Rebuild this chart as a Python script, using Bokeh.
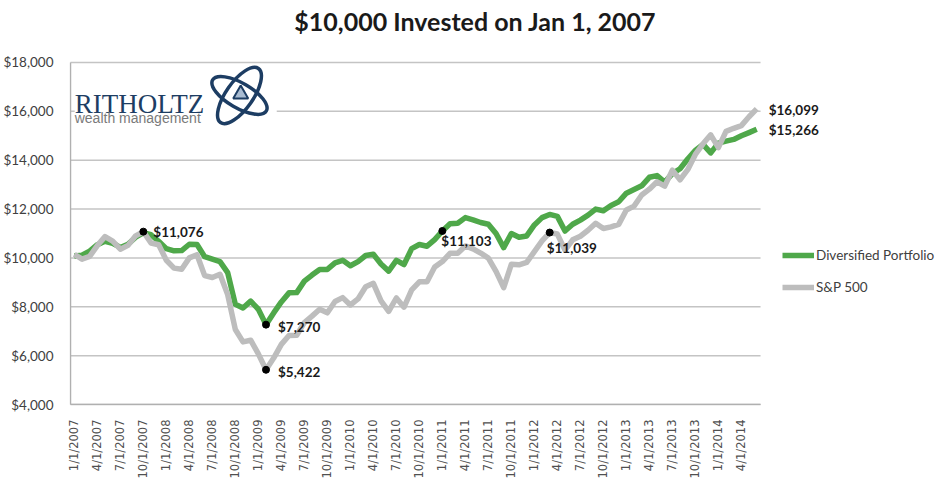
import math
from bokeh.plotting import figure
from bokeh.models import (Range1d, FixedTicker, NumeralTickFormatter, Legend,
                          LegendItem, Label)
from bokeh.embed import file_html
from bokeh.resources import INLINE
from bokeh.core.properties import value

# ---------------- data ----------------
months = list(range(90))  # month-end points, Jan 2007 .. Jun 2014

tick_labels = [
    "1/1/2007", "4/1/2007", "7/1/2007", "10/1/2007",
    "1/1/2008", "4/1/2008", "7/1/2008", "10/1/2008",
    "1/1/2009", "4/1/2009", "7/1/2009", "10/1/2009",
    "1/1/2010", "4/1/2010", "7/1/2010", "10/1/2010",
    "1/1/2011", "4/1/2011", "7/1/2011", "10/1/2011",
    "1/1/2012", "4/1/2012", "7/1/2012", "10/1/2012",
    "1/1/2013", "4/1/2013", "7/1/2013", "10/1/2013",
    "1/1/2014", "4/1/2014",
]
tick_positions = list(range(0, 90, 3))

diversified = [
    10080, 10110, 10280, 10540, 10680, 10600, 10430, 10560, 10850, 11030,
    10950, 10680, 10380, 10290, 10300, 10560, 10550, 10050, 9950, 9850,
    9400, 8100, 7950, 8230, 7900, 7270, 7750, 8200, 8570, 8580,
    9050, 9300, 9530, 9530, 9800, 9900, 9680, 9850, 10100, 10150,
    9750, 9460, 9900, 9730, 10380, 10550, 10480, 10750, 11103, 11400,
    11420, 11650, 11560, 11450, 11380, 11000, 10420, 11000, 10850, 10900,
    11350, 11650, 11780, 11700, 11100, 11380, 11550, 11750, 12000, 11930,
    12150, 12300, 12650, 12800, 12950, 13300, 13370, 13100, 13450, 13650,
    14050, 14400, 14650, 14300, 14700, 14780, 14850, 15000, 15130, 15266,
]

sp500 = [
    10151, 9951, 10062, 10507, 10873, 10691, 10359, 10513, 10904, 11076,
    10612, 10538, 9905, 9582, 9540, 10003, 10132, 9277, 9198, 9331,
    8499, 7071, 6564, 6632, 6072, 5422, 5900, 6463, 6824, 6837,
    7354, 7618, 7902, 7754, 8218, 8376, 8073, 8322, 8823, 8962,
    8245, 7813, 8360, 7983, 8694, 9023, 9023, 9625, 9851, 10189,
    10192, 10492, 10373, 10199, 9991, 9447, 8782, 9741, 9719, 9817,
    10256, 10697, 11039, 10977, 10317, 10741, 10889, 11133, 11419, 11206,
    11271, 11372, 11959, 12121, 12574, 12815, 13114, 12937, 13594, 13199,
    13612, 14237, 14670, 15039, 14517, 15179, 15305, 15417, 15778, 16099,
]

y_ticks = [4000, 6000, 8000, 10000, 12000, 14000, 16000, 18000]

series_names = ["Diversified Portfolio", "S&P 500"]
title_text = "$10,000 Invested on Jan 1, 2007"

GREEN = "#4fa84a"
GRAY = "#bdbdbd"
NAVY = "#1d3d63"

# ---------------- figure ----------------
# the frame covers the whole canvas above the date labels; the months' span is
# x in [-0.5, 89.5] and the values' span is y in [4000, 18000]
x_start, x_end = -0.5, len(months) - 0.5
p = figure(frame_width=867, frame_height=398, output_backend="svg", toolbar_location=None,
           x_range=Range1d(-0.63, 112.45), y_range=Range1d(3960, 20250),
           min_border_left=59, min_border_right=0, min_border_top=7,
           min_border_bottom=73, title=None)
p.outline_line_color = None
p.background_fill_color = "white"
p.border_fill_color = "white"

# axes
p.xaxis.ticker = FixedTicker(ticks=tick_positions)
p.xaxis.major_label_overrides = {t: lab for t, lab in zip(tick_positions, tick_labels)}
p.xaxis.major_label_orientation = math.pi / 2
p.xaxis.major_label_text_font = "DejaVu Sans"
p.xaxis.major_label_text_font_size = "11.5px"
p.xaxis.major_label_text_color = "#505050"
p.xaxis.major_tick_line_color = None
p.xaxis.minor_tick_line_color = None
p.xaxis.axis_line_color = None
p.xaxis.major_label_standoff = 8

p.yaxis.ticker = FixedTicker(ticks=y_ticks)
p.yaxis.formatter = NumeralTickFormatter(format="$0,0")
p.yaxis.major_label_text_font = "Lato"
p.yaxis.major_label_text_font_size = "13.5px"
p.yaxis.major_label_text_color = "#404040"
p.yaxis.major_tick_line_color = None
p.yaxis.minor_tick_line_color = None
p.yaxis.axis_line_color = None
p.yaxis.major_label_standoff = 10

p.xgrid.grid_line_color = None
p.ygrid.grid_line_color = None

# horizontal gridlines limited to the months' span, plus the two axis lines
p.segment(x0=[x_start] * len(y_ticks), x1=[x_end] * len(y_ticks), y0=y_ticks, y1=y_ticks,
          line_color="#c4c4c4", line_width=1.5)
p.segment(x0=[x_start, x_start], x1=[x_end, x_start],
          y0=[y_ticks[0], y_ticks[0]], y1=[y_ticks[0], y_ticks[-1]],
          line_color="#b0b0b0", line_width=1.5)

# ---------------- title ----------------
p.add_layout(Label(x=52.3, y=19680, text=title_text, text_align="center",
                   text_baseline="middle", text_font="Lato", text_font_style="bold",
                   text_font_size="25px", text_color="#1a1a1a"))

# ---------------- logo (decoration) ----------------
p.quad(left=0.05, right=26.4, bottom=15340, top=17790,
       fill_color="white", line_color=None)
p.ellipse(x=21.54, y=16649, width=66, height=27, angle=math.radians(55),
          width_units="screen", height_units="screen",
          fill_color=None, line_color=NAVY, line_width=3.5)
p.ellipse(x=21.54, y=16649, width=62, height=25, angle=math.radians(-30),
          width_units="screen", height_units="screen",
          fill_color=None, line_color=NAVY, line_width=3.5)
p.scatter(x=[21.7], y=[16700], marker="triangle", size=15,
          fill_color="#a9bcd2", line_color=NAVY, line_width=2)
p.text(x=[0.05], y=[16280], text=["RITHOLTZ"], text_font=value("Liberation Serif"),
       text_font_size="27px", text_color=NAVY, text_baseline="alphabetic")
p.text(x=[0.05], y=[15707], text=["wealth management"], text_font=value("Liberation Sans"),
       text_font_size="14px", text_color="#7a7a7a", text_baseline="alphabetic")

# ---------------- series ----------------
r_div = p.line(months, diversified, line_color=GREEN, line_width=5.5, line_join="round")
r_sp = p.line(months, sp500, line_color=GRAY, line_width=5.5, line_join="round")

# highlighted points
mark_x = [9, 25, 25, 48, 62]
mark_y = [sp500[9], diversified[25], sp500[25], diversified[48], sp500[62]]
p.scatter(mark_x, mark_y, size=7, color="black")

def money(v):
    return "${:,}".format(v)

lab_style = dict(text_font="Lato", text_font_style="bold", text_font_size="13.5px",
                 text_color="#1a1a1a", text_baseline="middle")
p.add_layout(Label(x=9, y=sp500[9], text=money(sp500[9]), x_offset=10, y_offset=0, **lab_style))
p.add_layout(Label(x=25, y=diversified[25], text=money(diversified[25]), x_offset=12, y_offset=-2, **lab_style))
p.add_layout(Label(x=25, y=sp500[25], text=money(sp500[25]), x_offset=12, y_offset=-2, **lab_style))
p.add_layout(Label(x=48, y=diversified[48], text=money(diversified[48]), x_offset=-1, y_offset=-10, **lab_style))
p.add_layout(Label(x=62, y=sp500[62], text=money(sp500[62]), x_offset=-3, y_offset=-15, **lab_style))
p.add_layout(Label(x=89, y=sp500[89], text=money(sp500[89]), x_offset=12, y_offset=-1, **lab_style))
p.add_layout(Label(x=89, y=diversified[89], text=money(diversified[89]), x_offset=12, y_offset=-1, **lab_style))

# ---------------- legend ----------------
legend = Legend(items=[LegendItem(label=series_names[0], renderers=[r_div]),
                       LegendItem(label=series_names[1], renderers=[r_sp])],
                location=(713, 108), padding=0, margin=0, spacing=12,
                glyph_width=32, glyph_height=20, label_height=20, label_standoff=2,
                label_text_font="Lato", label_text_font_size="13.5px",
                label_text_color="#404040",
                border_line_alpha=0, background_fill_alpha=0)
p.add_layout(legend)

open("out.html", "w").write(file_html(p, INLINE))
